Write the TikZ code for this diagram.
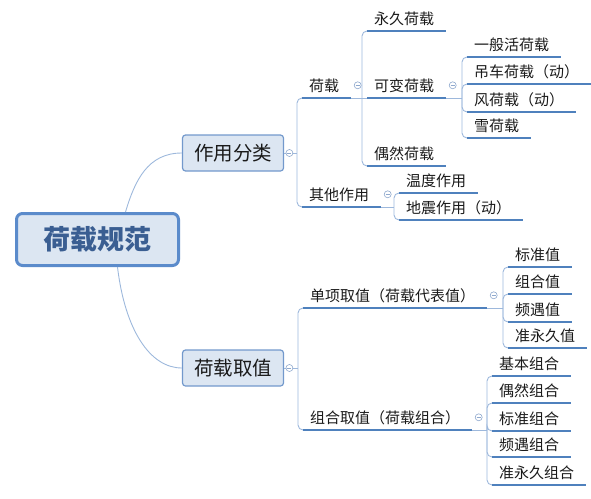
\documentclass[tikz,border=0pt]{standalone}
\usepackage{fontspec}
\newfontfamily\cjk{Noto Sans CJK SC}
\usetikzlibrary{positioning, calc}
\definecolor{mfill}{HTML}{DCE6F2}
\definecolor{mrim}{HTML}{5B8BCB}
\definecolor{mrimlt}{HTML}{7399CC}
\definecolor{mtitle}{HTML}{3A5E92}
\definecolor{mline}{HTML}{4F81BD}
\definecolor{mtwig}{HTML}{9DB8DC}
\definecolor{mfold}{HTML}{8FA9CE}
\definecolor{mink}{HTML}{1A1A1A}

\begin{document}
\begin{tikzpicture}[
  x=1pt, y=-1pt,
  font=\cjk\fontsize{15pt}{18pt}\selectfont,
  % the central topic and the two main topics are filled cards
  root/.style  = {draw=mrim, line width=3pt, fill=mfill, rounded corners=6pt,
                  minimum width=162pt, minimum height=52pt, text=mtitle,
                  font=\cjk\fontsize{27pt}{32pt}\selectfont\bfseries},
  topic/.style = {draw=mrimlt, line width=1.2pt, fill=mfill, rounded corners=3pt,
                  minimum width=101pt, minimum height=36pt, text=mink,
                  font=\cjk\fontsize{19.5pt}{23pt}\selectfont},
  % every other topic is plain text sitting on an underline
  leaf/.style  = {anchor=south west, inner xsep=7pt, inner ysep=5pt,
                  text height=13.2pt, text depth=1.8pt, text=mink},
  uline/.style = {draw=mline, line width=2pt},
  twig/.style  = {draw=mtwig, line width=0.9pt, rounded corners=5pt},
  fold/.style  = {circle, draw=mfold, line width=0.6pt, fill=white,
                  minimum size=7pt, inner sep=0pt,
                  path picture={\draw[mfold, line width=0.6pt]
                    ([xshift=-2pt]path picture bounding box.center) --
                    ([xshift=2pt]path picture bounding box.center);}},
]
\useasboundingbox (0,0) rectangle (591,498);

% ================================================= central + main topics ===
\node[root]  (root) at (97.5,239.5) {荷载规范};
\node[topic] (zyfl) at (233,153)    {作用分类};
\node[topic] (hzqz) at (233,368)    {荷载取值};

\draw[twig] ([xshift=28pt]root.north) .. controls (135,180) and (148,153) .. (zyfl.west);
\draw[twig] ([xshift=20pt]root.south) .. controls (125,330) and (150,368) .. (hzqz.west);

% ============================================================ 作用分类 ===
\node[leaf] (hz) at (302,98)  {荷载};
\node[leaf] (qt) at (302,207) {其他作用};

\node[leaf] (yj) at (367,31)  {永久荷载};
\node[leaf] (kb) at (367,98)  {可变荷载};
\node[leaf] (or) at (367,166) {偶然荷载};

\node[leaf] (yb) at (467,57)  {一般活荷载};
\node[leaf] (dc) at (467,84)  {吊车荷载（动）};
\node[leaf] (fh) at (467,112) {风荷载（动）};
\node[leaf] (xh) at (467,138) {雪荷载};

\node[leaf] (wd) at (399,193) {温度作用};
\node[leaf] (dz) at (399,220) {地震作用（动）};

\coordinate (zyfl-s) at (297,153);
\coordinate (hz-s)   at (362,98);
\coordinate (kb-s)   at (462,98);
\coordinate (qt-s)   at (394,207);

\draw[twig] (zyfl.east) -- (zyfl-s);
\draw[twig] (hz.south west) -| (zyfl-s) |- (qt.south west);

\draw[twig] ([xshift=5pt]hz.south east) -- (hz-s);
\draw[twig] (yj.south west) -| (hz-s) |- (or.south west);
\draw[twig] (hz-s) -- (kb.south west);

\draw[twig] ([xshift=5pt]kb.south east) -- (kb-s);
\draw[twig] (yb.south west) -| (kb-s) |- (xh.south west);
\foreach \c in {dc, fh} \draw[twig] (kb-s) |- (\c.south west);

\draw[twig] ([xshift=5pt]qt.south east) -- (qt-s);
\draw[twig] (wd.south west) -| (qt-s) |- (dz.south west);

% ============================================================ 荷载取值 ===
\node[leaf] (dx) at (303,308) {单项取值（荷载代表值）};
\node[leaf] (zh) at (303,430) {组合取值（荷载组合）};

\node[leaf] (bz)  at (508,267) {标准值};
\node[leaf] (zhz) at (508,294) {组合值};
\node[leaf] (py)  at (508,322) {频遇值};
\node[leaf] (zy)  at (508,348) {准永久值};

\node[leaf] (jb)  at (492,376) {基本组合};
\node[leaf] (oz)  at (492,403) {偶然组合};
\node[leaf] (bzz) at (492,431) {标准组合};
\node[leaf] (pz)  at (492,457) {频遇组合};
\node[leaf] (zyz) at (492,485) {准永久组合};

\coordinate (hzqz-s) at (298,368);
\coordinate (dx-s)   at (503,308);
\coordinate (zh-s)   at (487,430);

\draw[twig] (hzqz.east) -- (hzqz-s);
\draw[twig] (dx.south west) -| (hzqz-s) |- (zh.south west);

\draw[twig] ([xshift=5pt]dx.south east) -- (dx-s);
\draw[twig] (bz.south west) -| (dx-s) |- (zy.south west);
\foreach \c in {zhz, py} \draw[twig] (dx-s) |- (\c.south west);

\draw[twig] ([xshift=5pt]zh.south east) -- (zh-s);
\draw[twig] (jb.south west) -| (zh-s) |- (zyz.south west);
\foreach \c in {oz, bzz, pz} \draw[twig] (zh-s) |- (\c.south west);

% ================================================= underlines and folds ===
\foreach \n in {hz, qt, yj, kb, or, yb, dc, fh, xh, wd, dz,
                dx, zh, bz, zhz, py, zy, jb, oz, bzz, pz, zyz}
  \draw[uline] (\n.south west) -- ([xshift=5pt]\n.south east);

\foreach \n in {zyfl, hzqz} \node[fold, right=1.5pt of \n] (\n-f) {};
\foreach \n in {hz, kb, qt, dx, zh} \node[fold, right=7.5pt of \n] (\n-f) {};

\end{tikzpicture}
\end{document}
